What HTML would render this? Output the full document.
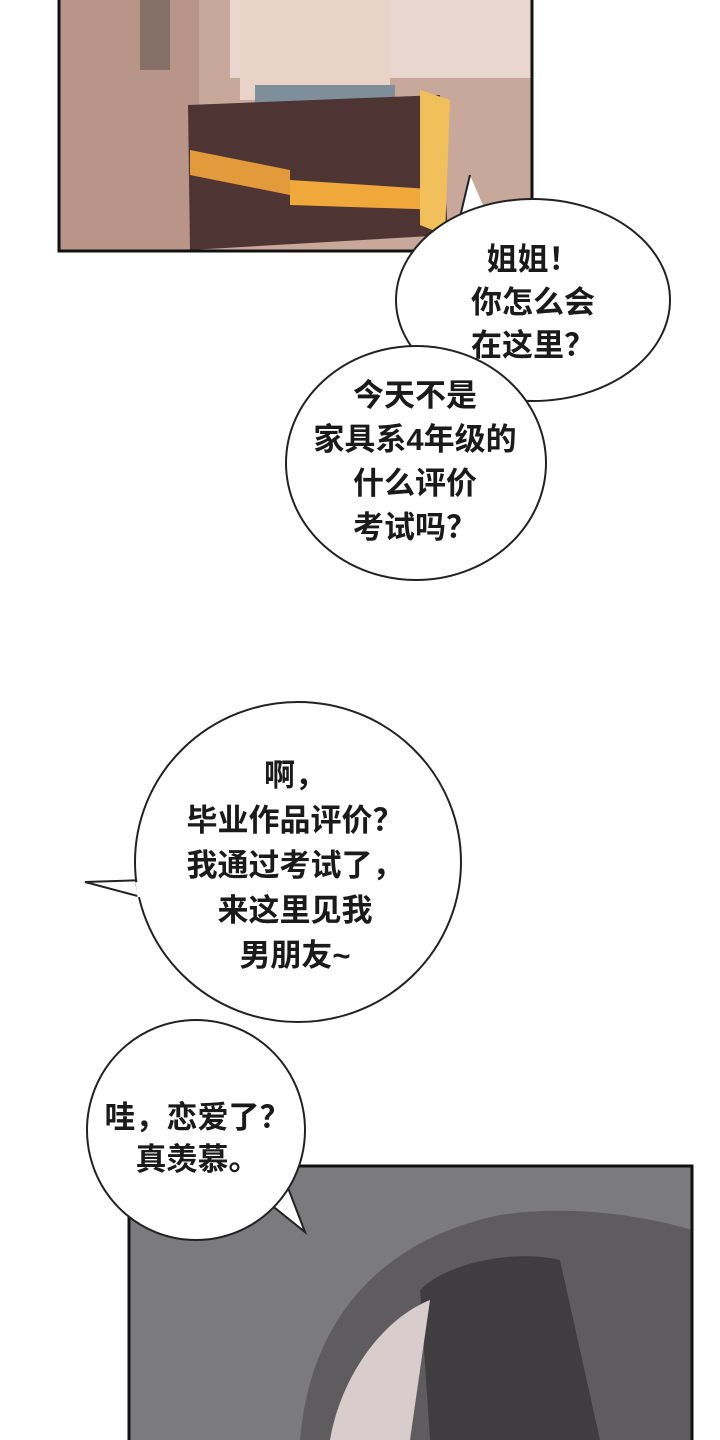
<!DOCTYPE html>
<html><head><meta charset="utf-8"><style>
html,body{margin:0;padding:0;background:#fff;}
body{width:720px;height:1440px;position:relative;overflow:hidden;font-family:"Liberation Sans","Noto Sans CJK SC",sans-serif;}
.t{position:absolute;font-size:31px;font-weight:bold;color:#1a1a1a;text-align:center;line-height:44px;white-space:nowrap;}
</style></head><body>
<svg width="720" height="1440" style="position:absolute;left:0;top:0">
  <rect x="59" y="-2" width="473" height="253" fill="#c8a89b"/>
  <rect x="59" y="-2" width="140" height="253" fill="#b99488"/>
  <rect x="230" y="-2" width="302" height="80" fill="#e9d6cf"/>
  <rect x="240" y="0" width="150" height="100" fill="#e8d3c6"/>
  <rect x="255" y="85" width="140" height="50" fill="#7f8e9b"/>
  <path d="M188 105 L440 95 L448 235 L190 250 Z" fill="#4e3533"/>
  <path d="M190 150 L290 170 L290 195 L190 175 Z" fill="#e39a3a"/>
  <path d="M290 180 L445 190 L445 210 L290 205 Z" fill="#f0a83a"/>
  <path d="M420 90 L450 100 L445 235 L420 225 Z" fill="#f2c05a"/>
  <rect x="140" y="0" width="30" height="70" fill="#857068"/>
  <rect x="59" y="-2" width="473" height="253" fill="none" stroke="#111" stroke-width="3"/>
  <path d="M470 175 L455 238 L490 222" fill="#fff" stroke="#222" stroke-width="2"/>
  <ellipse cx="533" cy="300" rx="137" ry="101" fill="#fff" stroke="#222" stroke-width="2"/>
  <path d="M455 236 L490 222" stroke="#fff" stroke-width="4"/>
  <ellipse cx="416" cy="463" rx="130" ry="117" fill="#fff" stroke="#222" stroke-width="2"/>
  <path d="M85 882 L145 880 L145 898 Z" fill="#fff" stroke="#222" stroke-width="2"/>
  <ellipse cx="298" cy="862" rx="163" ry="160" fill="#fff" stroke="#222" stroke-width="2"/>
  <path d="M138 882 L140 897" stroke="#fff" stroke-width="5"/>
  <rect x="129" y="1166" width="563" height="280" fill="#7b7b7d"/>
  <path d="M300 1440 C310 1320 380 1240 500 1215 C600 1200 692 1230 692 1230 L692 1440 Z" fill="#5e5c5f"/>
  <path d="M420 1290 C450 1260 520 1250 560 1260 L600 1440 L430 1440 Z" fill="#3f3d40"/>
  <path d="M330 1440 C340 1380 380 1320 430 1300 L410 1440 Z" fill="#d8cccc"/>
  <rect x="129" y="1166" width="563" height="280" fill="none" stroke="#111" stroke-width="3"/>
  <path d="M265 1200 L305 1232 L285 1180 Z" fill="#fff" stroke="#222" stroke-width="2"/>
  <ellipse cx="196" cy="1130" rx="109" ry="110" fill="#fff" stroke="#222" stroke-width="2"/>
  <path d="M268 1198 L285 1183" stroke="#fff" stroke-width="5"/>
</svg>
<div class="t" style="left:438px;top:238px;width:190px;line-height:43px;">姐姐！<br>你怎么会<br>在这里？</div>
<div class="t" style="left:285px;top:374px;width:260px;line-height:44px;">今天不是<br>家具系4年级的<br>什么评价<br>考试吗？</div>
<div class="t" style="left:155px;top:753px;width:280px;line-height:45px;">啊，<br>毕业作品评价？<br>我通过考试了，<br>来这里见我<br>男朋友~</div>
<div class="t" style="left:90px;top:1097px;width:215px;line-height:42px;">哇，恋爱了？<br>真羡慕。</div>
</body></html>
